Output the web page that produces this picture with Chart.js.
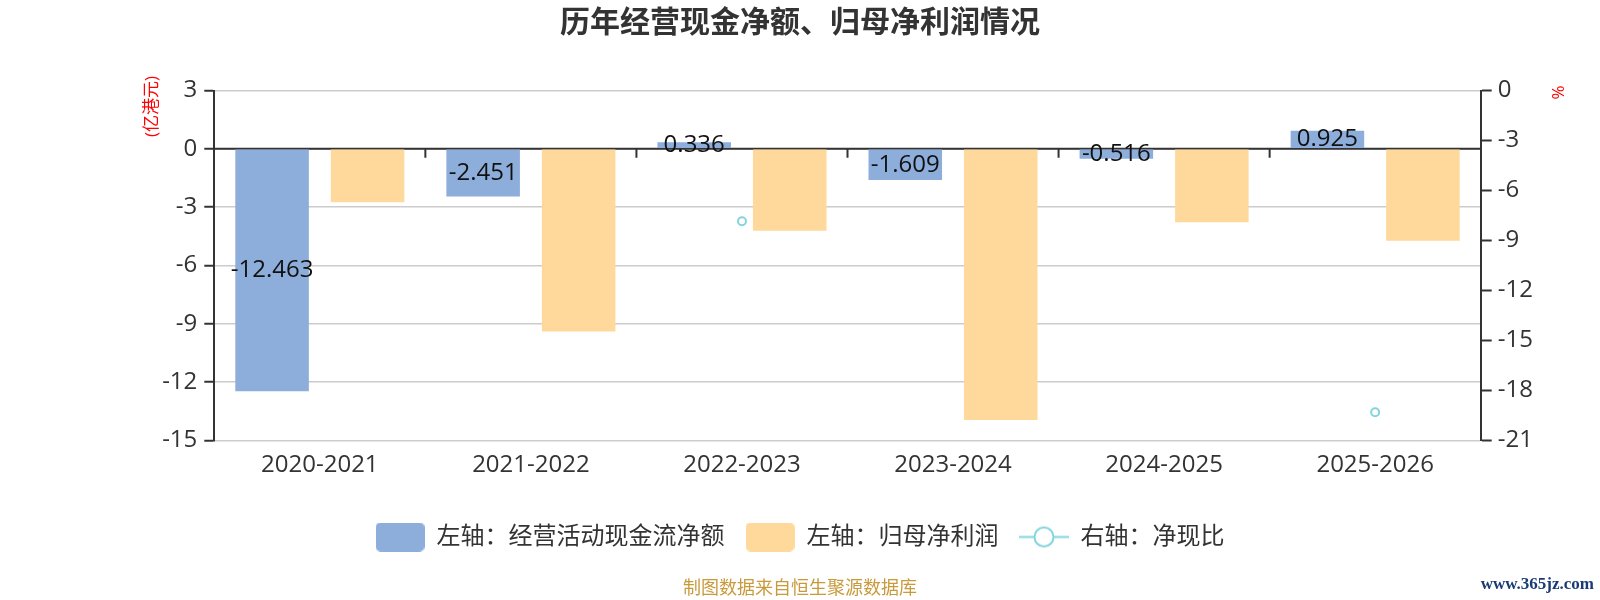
<!DOCTYPE html>
<html>
<head>
<meta charset="utf-8">
<script src="https://cdn.jsdelivr.net/npm/chart.js@4.4.1/dist/chart.umd.min.js"></script>
<style>
html,body{margin:0;padding:0;background:#fff;}
#wrap{width:1600px;height:600px;position:relative;}
</style>
</head>
<body>
<div id="wrap"><canvas id="c"></canvas></div>
<script>
const categories = ['2020-2021','2021-2022','2022-2023','2023-2024','2024-2025','2025-2026'];
const cashFlow = [-12.463, -2.451, 0.336, -1.609, -0.516, 0.925];
const netProfit = [-2.75, -9.40, -4.21, -13.95, -3.78, -4.73];
const cashRatio = [null, null, -7.85, null, null, -19.3];
const seriesNames = ['左轴：经营活动现金流净额', '左轴：归母净利润', '右轴：净现比'];
const leftAxisName = '(亿港元)';
const rightAxisName = '%';
const titleText = '历年经营现金净额、归母净利润情况';
const footerText = '制图数据来自恒生聚源数据库';
const watermarkText = 'www.365jz.com';

const FONT = '"Open Sans", "Noto Sans CJK SC", sans-serif';
const BLUE = '#8DADDB';
const ORANGE = '#FFD99B';
const CYAN = '#82D4DD';

function makeBox(color) {
  const cv = document.createElement('canvas');
  cv.width = 49; cv.height = 29;
  const ctx = cv.getContext('2d');
  ctx.fillStyle = color;
  ctx.beginPath();
  ctx.roundRect(0, 0, 49, 29, 5);
  ctx.fill();
  return cv;
}
function makeLineSym() {
  const cv = document.createElement('canvas');
  cv.width = 50; cv.height = 29;
  const ctx = cv.getContext('2d');
  ctx.strokeStyle = CYAN;
  ctx.lineWidth = 2;
  ctx.beginPath(); ctx.moveTo(0, 14.5); ctx.lineTo(50, 14.5); ctx.stroke();
  ctx.beginPath(); ctx.arc(25, 14.5, 9.5, 0, Math.PI * 2);
  ctx.fillStyle = '#fff'; ctx.fill(); ctx.stroke();
  return cv;
}
const legendSyms = [makeBox(BLUE), makeBox(ORANGE), makeLineSym()];

const extras = {
  id: 'extras',
  beforeDatasetsDraw(chart) {
    const ctx = chart.ctx, y = chart.scales.y, x = chart.scales.x, a = chart.chartArea;
    const y0 = y.getPixelForValue(0);
    ctx.save();
    ctx.strokeStyle = '#333';
    ctx.lineWidth = 2;
    ctx.beginPath();
    ctx.moveTo(a.left, y0); ctx.lineTo(a.right, y0);
    for (let i = 0; i < categories.length - 1; i++) {
      const bx = (x.getPixelForValue(i) + x.getPixelForValue(i + 1)) / 2;
      ctx.moveTo(bx, y0); ctx.lineTo(bx, y0 + 9);
    }
    ctx.stroke();
    ctx.restore();
  },
  afterDatasetsDraw(chart) {
    const ctx = chart.ctx;
    const meta = chart.getDatasetMeta(0);
    ctx.save();
    ctx.font = '24px ' + FONT;
    ctx.fillStyle = '#111';
    ctx.textAlign = 'center';
    ctx.textBaseline = 'middle';
    meta.data.forEach((bar, i) => {
      ctx.fillText(String(cashFlow[i]), bar.x, (bar.y + bar.base) / 2);
    });
    ctx.restore();
  },
  afterDraw(chart) {
    const ctx = chart.ctx, a = chart.chartArea;
    ctx.save();
    ctx.fillStyle = '#FF0000';
    ctx.font = '17px ' + FONT;
    ctx.textAlign = 'center';
    ctx.textBaseline = 'middle';
    ctx.translate(152, a.top + 16);
    ctx.rotate(-Math.PI / 2);
    ctx.fillText(leftAxisName, 0, 0);
    ctx.restore();
    ctx.save();
    ctx.fillStyle = '#FF0000';
    ctx.font = '17px ' + FONT;
    ctx.textAlign = 'center';
    ctx.textBaseline = 'middle';
    ctx.translate(1559, a.top + 2);
    ctx.rotate(-Math.PI / 2);
    ctx.fillText(rightAxisName, 0, 0);
    ctx.restore();
    ctx.save();
    ctx.fillStyle = '#1B3C73';
    ctx.font = 'bold 17px "Liberation Serif", serif';
    ctx.textAlign = 'right';
    ctx.textBaseline = 'middle';
    ctx.fillText(watermarkText, 1594, 585);
    ctx.restore();
  }
};

new Chart(document.getElementById('c'), {
  data: {
    labels: categories,
    datasets: [
      { type: 'bar', label: seriesNames[0], data: cashFlow, backgroundColor: BLUE, yAxisID: 'y', order: 2,
        categoryPercentage: 0.905, barPercentage: 0.77 },
      { type: 'bar', label: seriesNames[1], data: netProfit, backgroundColor: ORANGE, yAxisID: 'y', order: 2,
        categoryPercentage: 0.905, barPercentage: 0.77 },
      { type: 'line', label: seriesNames[2], data: cashRatio, yAxisID: 'y1', order: 1,
        borderColor: CYAN, backgroundColor: '#fff', borderWidth: 2, pointRadius: 4, pointBorderWidth: 2,
        pointBackgroundColor: '#fff', pointBorderColor: CYAN, spanGaps: false }
    ]
  },
  options: {
    responsive: true,
    maintainAspectRatio: false,
    animation: false,
    devicePixelRatio: 1,
    layout: { padding: { left: 0, right: 0, top: 0, bottom: 0 } },
    plugins: {
      title: { display: true, text: titleText, color: '#333',
        font: { family: FONT, size: 30, weight: 'bold', lineHeight: 1.2 },
        padding: { top: 5, bottom: 49.5 } },
      subtitle: { display: true, position: 'bottom', text: footerText, color: '#C99A3B',
        font: { family: FONT, size: 18, lineHeight: 1.2 }, padding: { top: 19.4, bottom: 0 } },
      legend: {
        position: 'bottom',
        labels: {
          usePointStyle: true, pointStyleWidth: 49, boxHeight: 24, padding: 21,
          color: '#333', font: { family: FONT, size: 24 },
          generateLabels(chart) {
            const items = Chart.defaults.plugins.legend.labels.generateLabels(chart);
            items.sort((p, q) => p.datasetIndex - q.datasetIndex);
            items.forEach(it => { it.pointStyle = legendSyms[it.datasetIndex]; it.fontColor = '#333'; });
            return items;
          }
        }
      },
      tooltip: { enabled: false }
    },
    scales: {
      x: {
        type: 'category',
        grid: { display: false, drawTicks: false },
        border: { display: false },
        ticks: { color: '#333', font: { family: FONT, size: 24 }, padding: 10 },
        afterFit(s) { s.height = 63.5; }
      },
      y: {
        position: 'left', min: -15, max: 3,
        ticks: { stepSize: 3, color: '#333', font: { family: FONT, size: 24 }, padding: 7 },
        grid: { color: '#ccc', lineWidth: 1.5, tickColor: '#333', tickLength: 10, tickWidth: 2 },
        border: { display: true, color: '#333', width: 2 },
        afterFit(s) { s.width = 214.3; }
      },
      y1: {
        position: 'right', min: -21, max: 0,
        ticks: { stepSize: 3, color: '#333', font: { family: FONT, size: 24 }, padding: 6 },
        grid: { drawOnChartArea: false, tickColor: '#333', tickLength: 11, tickWidth: 2 },
        border: { display: true, color: '#333', width: 2 },
        afterFit(s) { s.width = 119.3; }
      }
    }
  },
  plugins: [extras]
});
</script>
</body>
</html>
